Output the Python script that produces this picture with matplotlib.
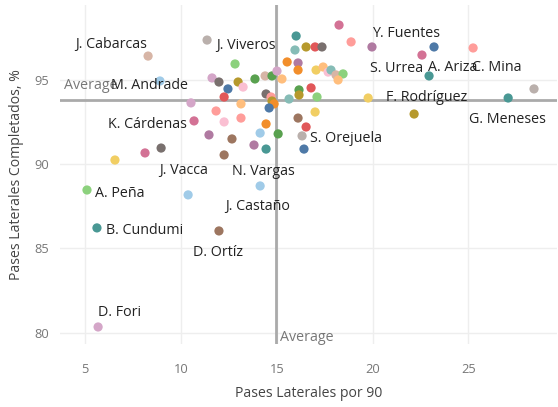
import matplotlib.pyplot as plt

plt.rcParams['font.family'] = ['Open Sans', 'DejaVu Sans']

# pases laterales por 90 / % completados
x_vals = [8.28, 11.36, 8.90, 10.68, 10.37, 14.44, 14.13, 11.98, 5.09, 5.61,
          5.67, 16.32, 19.77, 27.08, 19.97, 22.58, 22.95, 25.25,
          23.21, 28.43, 22.17, 18.25, 18.88, 16.01, 15.95, 16.53, 17.00, 17.36,
          15.54, 16.11, 16.11, 17.05, 17.42, 17.68, 17.83, 18.09, 18.46, 18.20,
          12.82, 11.62, 11.98, 12.98, 13.24, 12.45, 12.25, 13.86, 14.39, 14.75,
          15.01, 15.27, 15.64, 16.16, 16.16, 16.79, 17.10, 17.00, 16.11, 16.53,
          16.42, 14.44, 14.70, 14.75, 14.86, 14.60, 13.13, 11.83, 10.52, 12.25,
          13.13, 14.44, 14.13, 15.07, 11.46, 12.66, 13.81, 12.25, 8.96, 8.12,
          6.55]
y_vals = [96.42, 97.37, 94.94, 92.57, 88.18, 90.90, 88.71, 86.04, 88.47, 86.22,
          80.34, 91.68, 93.93, 93.93, 96.96, 96.48, 95.24, 96.90,
          96.96, 94.47, 92.98, 98.26, 97.26, 97.61, 96.78, 96.96, 96.96, 96.96,
          96.07, 96.01, 95.59, 95.59, 95.77, 95.47, 95.59, 95.30, 95.36, 95.00,
          95.95, 95.12, 94.88, 94.88, 94.58, 94.47, 93.99, 95.06, 95.24, 95.24,
          95.53, 95.06, 93.87, 94.41, 94.11, 94.53, 93.99, 93.10, 92.74, 92.21,
          90.90, 94.17, 93.99, 93.75, 93.58, 93.34, 93.58, 93.16, 93.64, 92.51,
          92.74, 92.39, 91.85, 91.80, 91.74, 91.50, 91.14, 90.55, 90.96, 90.67,
          90.25]
names = ['J. Cabarcas', 'J. Viveros', 'M. Andrade', 'K. Cárdenas', 'J. Vacca',
         'N. Vargas', 'J. Castaño', 'D. Ortíz', 'A. Peña', 'B. Cundumi',
         'D. Fori', 'S. Orejuela', 'F. Rodríguez', 'G. Meneses', 'Y. Fuentes',
         'S. Urrea', 'A. Ariza', 'C. Mina']

avg_x = 14.95
avg_y = 93.8

# tableau 20
T = {'blue': '#4e79a7', 'lblue': '#a0cbe8', 'orange': '#f28e2b', 'lorange': '#ffbe7d',
     'green': '#59a14f', 'lgreen': '#8cd17d', 'gold': '#b6992d', 'yellow': '#f1ce63',
     'teal': '#499894', 'lteal': '#86bcb6', 'red': '#e15759', 'salmon': '#ff9d9a',
     'gray': '#79706e', 'lgray': '#bab0ac', 'pink': '#d37295', 'lpink': '#fabfd2',
     'purple': '#b07aa1', 'lpurple': '#d4a6c8', 'brown': '#9d7660', 'lbrown': '#d7b5a6'}
point_colors = ['lbrown', 'lgray', 'lblue', 'pink', 'lblue', 'teal', 'lblue', 'brown',
                'lgreen', 'teal', 'lpurple', 'lgray', 'yellow', 'teal', 'purple',
                'pink', 'teal', 'salmon',
                'blue', 'lgray', 'gold', 'pink', 'salmon', 'teal', 'lteal', 'gold',
                'red', 'gray', 'orange', 'purple', 'orange', 'yellow', 'lorange',
                'lpink', 'lteal', 'lbrown', 'lgreen', 'lorange',
                'lgreen', 'lpurple', 'gray', 'gold', 'lpink', 'blue', 'red', 'green',
                'lbrown', 'green', 'lpurple', 'lorange', 'lteal', 'green', 'gold',
                'red', 'lgreen', 'yellow', 'brown', 'red', 'blue', 'gray', 'salmon',
                'gold', 'orange', 'blue', 'lorange', 'salmon', 'lpurple', 'lpink',
                'salmon', 'orange', 'lblue', 'green', 'purple', 'brown', 'purple',
                'brown', 'gray', 'pink', 'yellow']

# label offsets in pixels (dx, dy, ha)
offsets = {
    'J. Cabarcas': (-1, 12, 'right'), 'J. Viveros': (9, -5, 'left'),
    'M. Andrade': (28, -5, 'right'), 'K. Cárdenas': (-7, -4, 'right'),
    'J. Vacca': (-4, 24, 'center'), 'N. Vargas': (-3, -22, 'center'),
    'J. Castaño': (-3, -21, 'center'), 'D. Ortíz': (-1, -22, 'center'),
    'A. Peña': (8, -3, 'left'), 'B. Cundumi': (9, -3, 'left'),
    'D. Fori': (0, 14, 'left'), 'S. Orejuela': (8, -3, 'left'),
    'F. Rodríguez': (18, 1, 'left'), 'G. Meneses': (-1, -21, 'center'),
    'Y. Fuentes': (0, 13, 'left'), 'S. Urrea': (1, -13, 'right'),
    'A. Ariza': (-1, 8, 'left'), 'C. Mina': (-1, -20, 'left'),
}

fig = plt.figure(figsize=(5.58, 4.07), dpi=100)
ax = fig.add_axes([0.1075, 0.1548, 0.8907, 0.8329])

ax.scatter(x_vals, y_vals, s=44, c=[T[c] for c in point_colors], linewidths=0, zorder=3)

ax.axvline(avg_x, color='#aaaaaa', lw=2, zorder=2)
ax.axhline(avg_y, color='#aaaaaa', lw=2, zorder=2)
ax.annotate('Average', (0.008, avg_y), xycoords=('axes fraction', 'data'),
            xytext=(0, 15), textcoords='offset pixels', color='#777777',
            fontsize=10.3, ha='left', va='center')
ax.annotate('Average', (avg_x, 0), xycoords=('data', 'axes fraction'),
            xytext=(4, 6), textcoords='offset pixels', color='#777777',
            fontsize=10.3, ha='left', va='center')

for i, name in enumerate(names):
    dx, dy, ha = offsets[name]
    ax.annotate(name, (x_vals[i], y_vals[i]), xytext=(dx, dy),
                textcoords='offset pixels', ha=ha, va='center',
                fontsize=10.3, color='#222222', zorder=4)

ax.set_xlim(3.68, 29.63)
ax.set_ylim(79.33, 99.45)
ax.set_xticks([5, 10, 15, 20, 25])
ax.set_yticks([80, 85, 90, 95])
ax.grid(True, color='#eeeeee', lw=1, zorder=0)
ax.set_axisbelow(True)
for s in ax.spines.values():
    s.set_visible(False)
ax.tick_params(length=0, labelsize=9.3, labelcolor='#777777')
ax.tick_params(axis='x', pad=14)
ax.tick_params(axis='y', pad=8)
ax.set_xlabel('Pases Laterales por 90', fontsize=10.1, color='#444444', labelpad=7)
ax.set_ylabel('Pases Laterales Completados, %', fontsize=10.1, color='#444444', labelpad=7)

fig.savefig('out.png', dpi=100)
